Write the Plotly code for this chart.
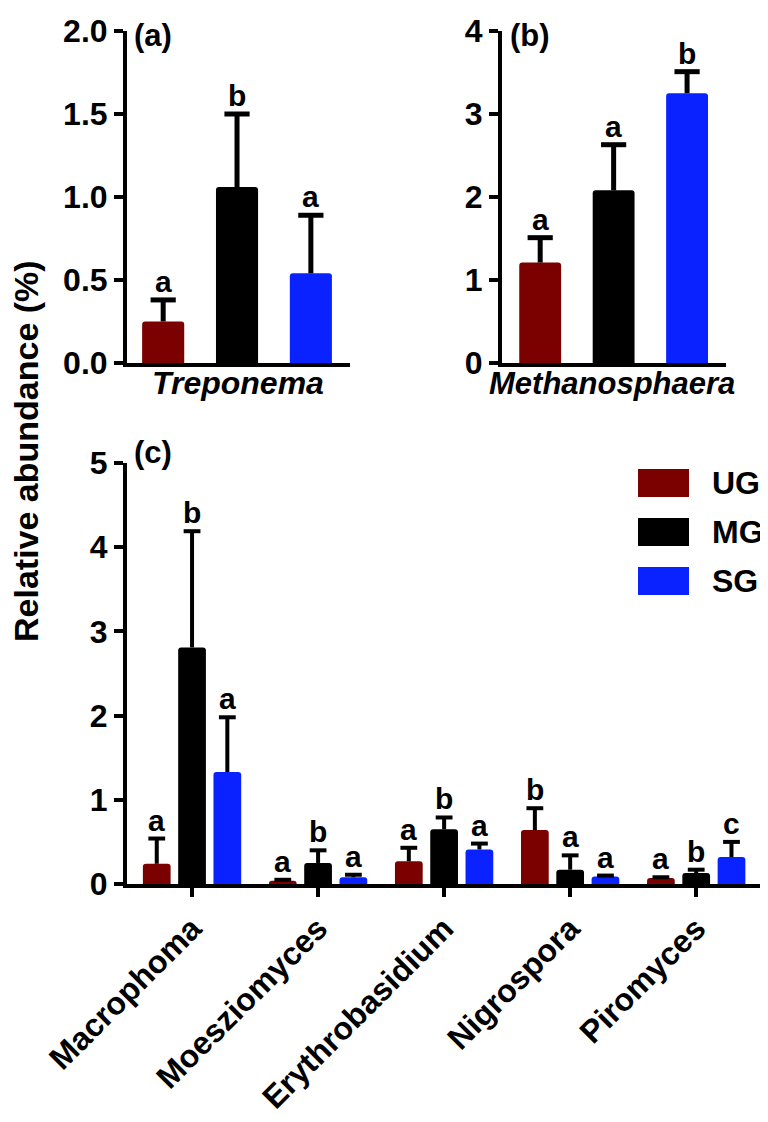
import plotly.graph_objects as go

# page body has an 8px margin, so the figure is 8px smaller and positions shifted
OFF = 8
W, H = 768 - OFF, 1122 - OFF
FONT = "Liberation Sans, Arial, sans-serif"

groups = ["UG", "MG", "SG"]
group_colors = ["#7b0000", "#000000", "#0a22ff"]

# (a) Treponema
trep_mean = [0.25, 1.06, 0.54]
trep_err = [0.13, 0.44, 0.35]
trep_sig = ["a", "b", "a"]

# (b) Methanosphaera
meth_mean = [1.21, 2.08, 3.25]
meth_err = [0.30, 0.55, 0.26]
meth_sig = ["a", "a", "b"]

# (c) fungal genera
genera = ["Macrophoma", "Moesziomyces", "Erythrobasidium", "Nigrospora", "Piromyces"]
ug_mean = [0.24, 0.04, 0.27, 0.64, 0.07]
ug_err = [0.30, 0.01, 0.16, 0.26, 0.01]
mg_mean = [2.81, 0.25, 0.65, 0.17, 0.13]
mg_err = [1.38, 0.15, 0.14, 0.17, 0.04]
sg_mean = [1.33, 0.08, 0.41, 0.09, 0.32]
sg_err = [0.65, 0.03, 0.07, 0.01, 0.18]
ug_sig = ["a", "a", "a", "b", "a"]
mg_sig = ["b", "b", "b", "a", "b"]
sg_sig = ["a", "a", "a", "a", "c"]


def fx(p):
    return (p - OFF) / W


def fy(p):
    return 1 - (p - OFF) / H


fig = go.Figure()


def bars_with_err(xs, means, errs, sigs, colors, xa, ya, bw, cap, thick):
    fig.add_trace(go.Bar(x=xs, y=means, width=bw, marker=dict(color=colors, line_width=0, cornerradius=3),
                         xaxis=xa, yaxis=ya, showlegend=False))
    tops = [m + e for m, e in zip(means, errs)]
    fig.add_trace(go.Scatter(x=xs, y=tops, mode="markers", xaxis=xa, yaxis=ya, showlegend=False,
                             marker=dict(symbol="line-ew", size=cap, line=dict(width=thick, color="black")),
                             error_y=dict(type="data", symmetric=False, array=[0] * len(xs), arrayminus=errs,
                                          width=0, thickness=thick, color="black")))
    for x, t, s in zip(xs, tops, sigs):
        fig.add_annotation(x=x, y=t, xref=xa, yref=ya, text="<b>" + s + "</b>", showarrow=False,
                           yanchor="bottom", yshift=0, font=dict(family=FONT, size=30, color="black"))


# panel a / b
bars_with_err([0, 1, 2], trep_mean, trep_err, trep_sig, group_colors, "x", "y", 0.57, 18, 5)
bars_with_err([0, 1, 2], meth_mean, meth_err, meth_sig, group_colors, "x2", "y2", 0.57, 18, 5)

# panel c
offs = [-0.28, 0, 0.28]
for g, (m, e, s) in enumerate([(ug_mean, ug_err, ug_sig), (mg_mean, mg_err, mg_sig), (sg_mean, sg_err, sg_sig)]):
    xs = [i + offs[g] for i in range(len(genera))]
    bars_with_err(xs, m, e, s, group_colors[g], "x3", "y3", 0.22, 12, 4)

tickfont = dict(family=FONT, size=32, color="black", weight="bold")
ax = dict(showline=True, linecolor="black", linewidth=4, showgrid=False, zeroline=False, automargin=False,
          ticks="outside", tickcolor="black", tickwidth=4, ticklen=9, tickfont=tickfont)

fig.update_layout(
    template="none",
    width=W, height=H,
    margin=dict(l=0, r=0, t=0, b=0, pad=0, autoexpand=False),
    paper_bgcolor="white", plot_bgcolor="white",
    xaxis=dict(ax, domain=[fx(127), fx(350)], range=[-0.49, 2.53], anchor="y", ticks="", showticklabels=False),
    yaxis=dict(ax, domain=[fy(363), fy(31)], range=[0, 2], dtick=0.5, tickformat=".1f", anchor="x"),
    xaxis2=dict(ax, domain=[fx(502), fx(726)], range=[-0.52, 2.53], anchor="y2", ticks="", showticklabels=False),
    yaxis2=dict(ax, domain=[fy(363), fy(31)], range=[0, 4], dtick=1, anchor="x2"),
    xaxis3=dict(ax, domain=[fx(127), fx(763)], range=[-0.516, 4.53], anchor="y3",
                tickvals=list(range(len(genera))), ticktext=genera, tickangle=-45,
                tickfont=dict(family=FONT, size=32, color="black", weight="bold")),
    yaxis3=dict(ax, domain=[fy(884), fy(463)], range=[0, 5], dtick=1, anchor="x3"),
)

# axis titles of panels a and b
fig.add_annotation(x=fx(238), y=fy(383), xref="paper", yref="paper", text="<b><i>Treponema</i></b>",
                   showarrow=False, xanchor="center", font=dict(family=FONT, size=32, color="black"))
fig.add_annotation(x=fx(612), y=fy(383), xref="paper", yref="paper", text="<b><i>Methanosphaera</i></b>",
                   showarrow=False, xanchor="center", font=dict(family=FONT, size=31, color="black"))

# panel labels
for lab, px, py in [("(a)", 132, 16), ("(b)", 508, 16), ("(c)", 132, 452)]:
    fig.add_annotation(x=fx(px), y=fy(py), xref="paper", yref="paper", text="<b>" + lab + "</b>",
                       showarrow=False, xanchor="left", font=dict(family=FONT, size=31, color="black"))

# y title
fig.add_annotation(x=fx(26), y=fy(451), xref="paper", yref="paper", text="<b>Relative abundance (%)</b>",
                   textangle=-90, showarrow=False, xanchor="center", font=dict(family=FONT, size=34, color="black"))

# legend
for i, (g, c) in enumerate(zip(groups, group_colors)):
    top = 469 + i * 49
    fig.add_shape(type="rect", xref="paper", yref="paper", x0=fx(638), x1=fx(689), y0=fy(top + 28), y1=fy(top),
                  fillcolor=c, line_width=0)
    fig.add_annotation(x=fx(710), y=fy(top + 14), xref="paper", yref="paper", text="<b>" + g + "</b>",
                       showarrow=False, xanchor="left", font=dict(family=FONT, size=32, color="black"))

fig.write_html("out.html")
